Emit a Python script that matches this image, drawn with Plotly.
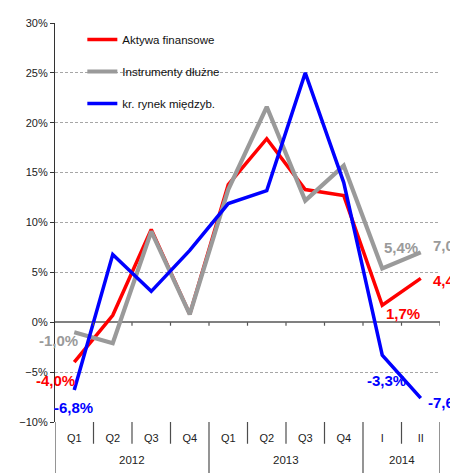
import plotly.graph_objects as go

# kwartały / lata
quarters = ["Q1", "Q2", "Q3", "Q4", "Q1", "Q2", "Q3", "Q4", "I", "II"]
years = ["2012", "2013", "2014"]
year_spans = [(0, 3), (4, 7), (8, 9)]   # first / last quarter index of each year

# dynamika r/r, %
aktywa = [-4.0, 0.7, 9.3, 0.8, 13.8, 18.4, 13.3, 12.7, 1.7, 4.4]
dluzne = [-1.0, -2.1, 9.1, 0.8, 13.3, 21.6, 12.2, 15.7, 5.4, 7.0]
miedzyb = [-6.8, 6.8, 3.1, 7.2, 11.9, 13.2, 25.0, 14.0, -3.3, -7.6]

RED = "#ff0000"
GRAY = "#9a9a9a"
BLUE = "#0000ff"
FONT = "Arial, Liberation Sans, sans-serif"

x = list(range(len(quarters)))

fig = go.Figure()
fig.add_trace(go.Scatter(x=x, y=aktywa, name="Aktywa finansowe", mode="lines",
                         line={"color": RED, "width": 3.5}, legendgroup="a"))
fig.add_trace(go.Scatter(x=x, y=dluzne, name="Instrumenty dłużne", mode="lines",
                         line={"color": GRAY, "width": 4.2}, legendgroup="b"))
fig.add_trace(go.Scatter(x=x, y=miedzyb, name="kr. rynek międzyb.", mode="lines",
                         line={"color": BLUE, "width": 3.5}, legendgroup="c"))


def fmt(v):
    return "{:.1f}%".format(v).replace(".", ",")


# etykiety wartości: (seria, indeks, kolor, xanchor, xshift, yshift)
labels = [
    (dluzne, 0, GRAY, "center", -16, -8),
    (aktywa, 0, RED, "center", -19, -18),
    (miedzyb, 0, BLUE, "center", -1, -17),
    (dluzne, 8, GRAY, "center", 19, 21),
    (dluzne, 9, GRAY, "left", 10, 7),
    (aktywa, 8, RED, "center", 21, -8),
    (aktywa, 9, RED, "left", 10, -2),
    (miedzyb, 8, BLUE, "center", 4, -25),
    (miedzyb, 9, BLUE, "left", 5, -4),
]
for ser, i, col, xa, xs, ys in labels:
    fig.add_annotation(x=i, y=ser[i], xref="x", yref="y", text="<b>" + fmt(ser[i]) + "</b>",
                       showarrow=False, xanchor=xa, yanchor="middle", xshift=xs, yshift=ys,
                       font={"family": FONT, "size": 15, "color": col})

# lata pod osią
for name, (a, b) in zip(years, year_spans):
    fig.add_annotation(x=(a + b) / 2, y=-0.0952, xref="x", yref="paper", text=name,
                       showarrow=False, yanchor="middle",
                       font={"family": FONT, "size": 11.5, "color": "#222"})

shapes = []
# linie podziału kwartałów / lat
year_edges = [a - 0.5 for a, b in year_spans] + [year_spans[-1][1] + 0.5]
for k in range(len(quarters) + 1):
    xb = k - 0.5
    low = -0.128 if xb in year_edges else -0.0545
    shapes.append(dict(type="line", xref="x", yref="paper", x0=xb, x1=xb, y0=0, y1=low,
                       line={"color": "#4d4d4d", "width": 1.2}))
    if k > 0:
        shapes.append(dict(type="line", xref="x", yref="y", x0=xb, x1=xb, y0=0, y1=-0.35,
                           line={"color": "#555", "width": 1.2}))
fig.update_layout(shapes=shapes)

fig.update_layout(
    width=450, height=473,
    margin={"l": 55, "r": 10, "t": 23, "b": 51},
    plot_bgcolor="white", paper_bgcolor="white",
    font={"family": FONT, "size": 11, "color": "#222"},
    showlegend=True,
    legend={"x": 0.071, "y": 0.995, "xanchor": "left", "yanchor": "top",
            "bgcolor": "rgba(0,0,0,0)", "tracegroupgap": 13,
            "font": {"family": FONT, "size": 11.5, "color": "#111"}},
    xaxis={"range": [-0.5, 9.5], "tickvals": x, "ticktext": quarters,
           "showgrid": False, "zeroline": False, "showline": False,
           "ticks": "outside", "ticklen": 6, "tickcolor": "rgba(0,0,0,0)",
           "tickfont": {"family": FONT, "size": 11, "color": "#222"}, "fixedrange": True},
    yaxis={"range": [-10, 30], "dtick": 5, "ticksuffix": "%",
           "showgrid": True, "gridcolor": "#a6a6a6", "gridwidth": 1, "griddash": "3px,2px",
           "zeroline": True, "zerolinecolor": "#808080", "zerolinewidth": 2,
           "showline": True, "linecolor": "#333", "linewidth": 1.2,
           "ticks": "outside", "ticklen": 4, "tickcolor": "#333",
           "tickfont": {"family": FONT, "size": 11, "color": "#222"}, "fixedrange": True},
)

# drop the default body margin so the 450x473 figure fills the window exactly
fig.write_html("out.html", config={"displayModeBar": False},
               post_script="document.body.style.margin='0';document.body.style.overflow='hidden';")
